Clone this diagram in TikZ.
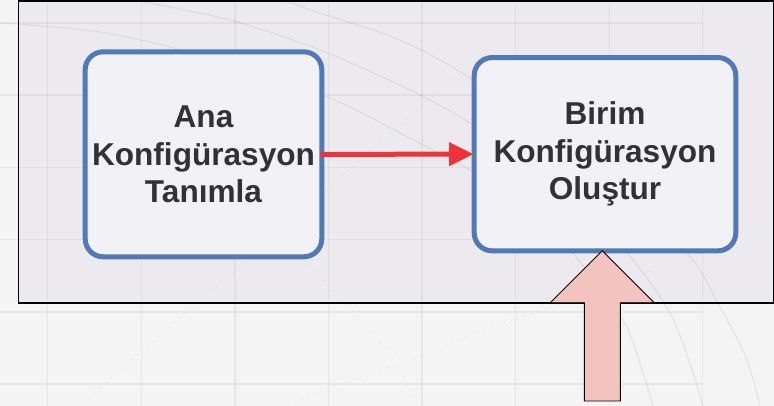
\documentclass[tikz,border=0pt]{standalone}
\usepackage{fontspec}
\setmainfont{Liberation Sans}
\usetikzlibrary{arrows.meta}
\definecolor{bgc}{HTML}{F4F4F4}
\definecolor{framec}{HTML}{ECEAEF}
\definecolor{boxfill}{HTML}{F2F1F6}
\definecolor{boxline}{HTML}{5179B5}
\definecolor{txt}{HTML}{323136}
\definecolor{redarrow}{HTML}{EF3338}
\definecolor{pinkc}{HTML}{F2C3BF}
\begin{document}
\begin{tikzpicture}[x=1pt,y=-1pt,
  gridline/.style={black,opacity=0.05,line width=1.5pt},
  arcline/.style={black,opacity=0.065,line width=1.2pt},
  dotline/.style={black,opacity=0.09,line width=1.1pt,line cap=round,dash pattern=on 0pt off 7pt},
  stepbox/.style={draw=boxline,line width=5pt,fill=boxfill,rounded corners=18pt,
    text=txt,font=\fontsize{31.6}{37.5}\selectfont\bfseries,align=center,inner sep=0pt},
  framebox/.style={draw=black,line width=1.5pt},
  blockarrow/.style={draw=black,line width=0.9pt,fill=pinkc,line join=miter},
  flowarrow/.style={draw=redarrow,line width=5pt,-{Triangle[length=24pt,width=24pt,line width=0pt]}}
]
\useasboundingbox (0,0) rectangle (774,406);
\clip (0,0) rectangle (774,406);
% background
\fill[bgc] (0,0) rectangle (774,406);
\fill[framec] (18.3,1) rectangle (773.3,303.2);
% grid
\foreach \gx in {47.7,141.3,234.9,328.5,422.1,515.7,609.3,702.7}
  \draw[gridline] (\gx,0) -- (\gx,406);
\foreach \gy in {23,95.2,167.4,239.6,311.8,384}
  \draw[gridline] (0,\gy) -- (702.7,\gy);
% faint arcs
\draw[arcline] plot[smooth] coordinates {(283,0) (320,13) (400,40) (470,78) (590,160) (687,253) (720,307) (747,360) (760,406)};
\draw[arcline] plot[smooth] coordinates {(133,0) (230,20) (320,50) (410,90) (470,123) (560,185) (627,253) (670,313) (693,373) (703,406)};
\draw[arcline] plot[smooth] coordinates {(0,23) (100,32) (200,55) (327,97) (400,133) (470,170) (530,205) (573,253) (623,320) (643,373) (653,406)};
% faint dotted curves
\draw[dotline] plot[smooth] coordinates {(80,406) (203,297) (243,263) (330,187) (390,133) (453,80) (480,57)};
\draw[dotline] plot[smooth] coordinates {(282,406) (357,378) (429,353) (474,333) (551,307) (654,270) (693,255)};
\draw[dotline] plot[smooth] coordinates {(300,255) (330,287) (357,317) (393,360) (418,406)};
% frame border
\draw[framebox] (18.3,1) rectangle (773.3,303.2);
% boxes
\node[stepbox,minimum width=236.6pt,minimum height=205pt] (a) at (203.5,154.3)
  {Ana\\Konfigürasyon\\Tanımla};
\node[stepbox,minimum width=261.6pt,minimum height=193.3pt] (b) at (605,154.2)
  {Birim\\Konfigürasyon\\Oluştur};
% red connector
\draw[flowarrow] ([xshift=-4pt]a.east) -- ([xshift=1.5pt]b.west);
% pink block arrow
\coordinate (ptip) at (602.3,250.7);
\draw[blockarrow] (ptip) -- ++(52,52) -- ++(-34,0) -- ++(0,98.3) -- ++(-36,0)
  -- ++(0,-98.3) -- ++(-34,0) -- cycle;
\end{tikzpicture}
\end{document}
